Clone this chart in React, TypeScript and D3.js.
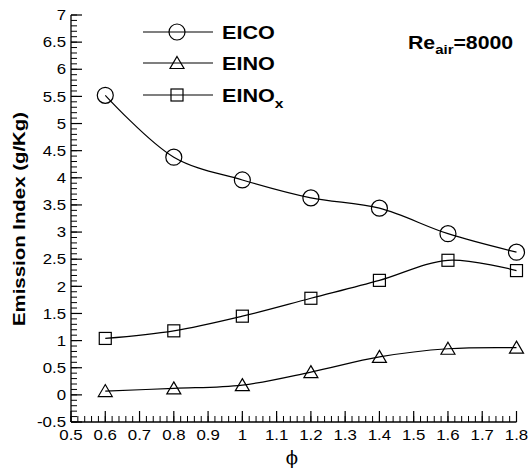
import React from "react";
import * as d3 from "d3";

const phi = [0.6, 0.8, 1.0, 1.2, 1.4, 1.6, 1.8];
const eico = [5.52, 4.38, 3.96, 3.63, 3.44, 2.97, 2.63];
const eino = [0.07, 0.12, 0.18, 0.42, 0.70, 0.85, 0.87];
const einox = [1.04, 1.18, 1.45, 1.78, 2.11, 2.48, 2.29];
const xTicks = [0.5, 0.6, 0.7, 0.8, 0.9, 1, 1.1, 1.2, 1.3, 1.4, 1.5, 1.6, 1.7, 1.8];
const yTicks = [-0.5, 0, 0.5, 1, 1.5, 2, 2.5, 3, 3.5, 4, 4.5, 5, 5.5, 6, 6.5, 7];

const W = 528, H = 470;
const x = d3.scaleLinear().domain([0.5, 1.8]).range([71, 516.5]);
const y = d3.scaleLinear().domain([-0.5, 7]).range([422, 15]);
const font = "'Liberation Sans', Arial, Helvetica, sans-serif";
const SX = 1.16;

function Marker({ type, cx, cy }: { type: string; cx: number; cy: number }) {
  if (type === "circle") return <circle cx={cx} cy={cy} r={8} fill="none" stroke="#000" strokeWidth={1.2} />;
  if (type === "square") return <rect x={cx - 6} y={cy - 6} width={12} height={12} fill="none" stroke="#000" strokeWidth={1.2} />;
  const s = 7;
  return <path d={`M${cx},${cy - 6.5} L${cx + s},${cy + 5.5} L${cx - s},${cy + 5.5} Z`} fill="none" stroke="#000" strokeWidth={1.2} />;
}

const series = [
  { name: "EICO", vals: eico, m: "circle" },
  { name: "EINO", vals: eino, m: "triangle" },
  { name: "EINOx", vals: einox, m: "square" },
];

export default function App() {
  const line = d3.line<number>().x((_, i) => x(phi[i])).y((d) => y(d)).curve(d3.curveCatmullRom.alpha(0.5));
  const xMinor = d3.range(0.5, 1.8001, 0.02);
  const yMinor = d3.range(-0.5, 7.0001, 0.1);
  const legY = [32, 63, 95];
  return (
    <svg width={W} height={H} style={{ position: "absolute", left: 0, top: 0 }} fontFamily={font}>
      <rect width={W} height={H} fill="#fff" />
      {/* axes */}
      <line x1={x(0.5)} x2={x(1.8)} y1={y(-0.5)} y2={y(-0.5)} stroke="#000" strokeWidth={1.3} />
      <line x1={x(0.5)} x2={x(0.5)} y1={y(-0.5)} y2={y(7)} stroke="#000" strokeWidth={1.3} />
      {xMinor.map((v, i) => (
        <line key={"xm" + i} x1={x(v)} x2={x(v)} y1={y(-0.5)} y2={y(-0.5) - 6} stroke="#000" strokeWidth={1} />
      ))}
      {xTicks.map((v) => (
        <g key={"xt" + v}>
          <line x1={x(v)} x2={x(v)} y1={y(-0.5)} y2={y(-0.5) - 11} stroke="#000" strokeWidth={1.2} />
          <text transform={`translate(${x(v)},440) scale(${SX},1)`} textAnchor="middle" fontSize={14.5}>{v}</text>
        </g>
      ))}
      {yMinor.map((v, i) => (
        <line key={"ym" + i} x1={x(0.5)} x2={x(0.5) + 6} y1={y(v)} y2={y(v)} stroke="#000" strokeWidth={1} />
      ))}
      {yTicks.map((v) => (
        <g key={"yt" + v}>
          <line x1={x(0.5)} x2={x(0.5) + 11} y1={y(v)} y2={y(v)} stroke="#000" strokeWidth={1.2} />
          <text transform={`translate(66,${y(v) + 5.2}) scale(${SX},1)`} textAnchor="end" fontSize={14.5}>{v}</text>
        </g>
      ))}
      <text transform={`translate(25,219) rotate(-90) scale(1.2,1)`} textAnchor="middle" fontSize={17} fontWeight="bold">Emission Index (g/Kg)</text>
      <text x={292} y={464} textAnchor="middle" fontSize={18} fontFamily="'DejaVu Serif', serif">ϕ</text>
      {/* series */}
      {series.map((s) => (
        <g key={s.name}>
          <path d={line(s.vals) || ""} fill="none" stroke="#000" strokeWidth={1.2} />
          {s.vals.map((v, i) => (
            <Marker key={i} type={s.m} cx={x(phi[i])} cy={y(v)} />
          ))}
        </g>
      ))}
      {/* legend */}
      {series.map((s, i) => (
        <g key={"leg" + s.name}>
          <line x1={143} x2={213} y1={legY[i]} y2={legY[i]} stroke="#000" strokeWidth={1.2} />
          <Marker type={s.m} cx={177} cy={legY[i]} />
          <text transform={`translate(222,${legY[i] + 6.5}) scale(1.2,1)`} fontSize={18} fontWeight="bold">
            {s.name === "EINOx" ? (
              <>EINO<tspan fontSize={13} dy={6}>x</tspan></>
            ) : s.name}
          </text>
        </g>
      ))}
      <text transform={`translate(408,49) scale(1.15,1)`} fontSize={18.5} fontWeight="bold">
        Re<tspan fontSize={13} dy={5}>air</tspan><tspan dy={-5}>=8000</tspan>
      </text>
    </svg>
  );
}
